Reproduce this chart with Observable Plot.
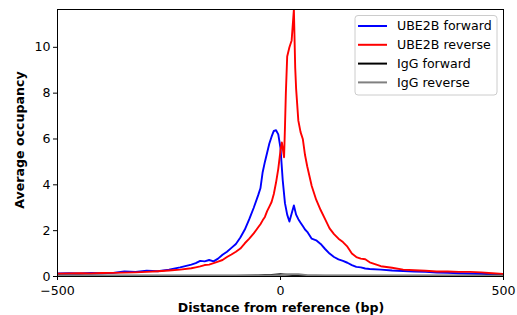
<!DOCTYPE html>
<html><head><meta charset="utf-8">
<script src="https://cdn.jsdelivr.net/npm/d3@7"></script>
<script src="https://cdn.jsdelivr.net/npm/@observablehq/plot@0.6"></script>
<style>body{margin:0;background:#fff}</style>
</head><body><div id="chart"></div><script>
// UBE2B forward
const fwdX = [-500,-475,-450,-425,-400,-375,-350,-325,-300,-275,-250,-225,-200,-190,-180,-170,-160,-150,-140,-130,-120,-110,-100,-90,-80,-70,-60,-50,-45,-40,-35,-30,-25,-20,-15,-10,-5,0,5,10,15,20,25,30,35,40,45,50,55,60,70,80,90,100,110,120,130,140,150,160,170,180,190,200,225,250,275,300,325,350,375,400,425,450,475,500];
const fwdY = [0.13,0.14,0.13,0.15,0.14,0.16,0.22,0.20,0.25,0.23,0.30,0.40,0.52,0.58,0.68,0.66,0.72,0.66,0.78,0.95,1.08,1.25,1.42,1.70,2.05,2.50,3.00,3.55,3.85,4.55,5.00,5.40,5.80,6.10,6.35,6.38,6.20,5.60,4.20,3.20,2.70,2.40,2.75,3.10,2.70,2.50,2.35,2.20,2.05,1.95,1.65,1.58,1.42,1.20,1.00,0.85,0.75,0.68,0.60,0.50,0.42,0.40,0.35,0.33,0.30,0.26,0.24,0.22,0.20,0.17,0.16,0.14,0.13,0.12,0.10,0.08];
// UBE2B reverse
const revX = [-500,-475,-450,-425,-400,-375,-350,-325,-300,-275,-250,-225,-200,-190,-180,-170,-160,-150,-140,-130,-120,-110,-100,-90,-80,-70,-60,-50,-45,-40,-35,-30,-25,-20,-15,-10,-5,0,3,8,10,12,15,20,25,30,33,35,40,45,50,55,60,70,80,90,100,110,120,130,140,150,160,170,180,190,200,225,250,275,300,325,350,375,400,425,450,475,500];
const revY = [0.12,0.13,0.14,0.13,0.15,0.16,0.17,0.18,0.20,0.23,0.26,0.30,0.36,0.40,0.44,0.50,0.52,0.58,0.65,0.72,0.85,0.96,1.08,1.22,1.45,1.65,1.88,2.15,2.28,2.45,2.60,2.85,3.05,3.25,3.60,4.10,4.70,5.50,5.85,5.20,6.50,8.00,9.60,10.00,10.30,11.65,9.10,8.20,6.80,6.30,6.00,5.30,4.80,3.95,3.35,2.90,2.50,2.10,1.85,1.65,1.50,1.30,1.00,0.85,0.78,0.75,0.62,0.45,0.38,0.30,0.27,0.25,0.22,0.22,0.20,0.20,0.18,0.14,0.11];
// IgG forward / reverse
const iggX = [-500,-400,-300,-200,-100,-50,-20,0,20,40,60,100,200,300,400,500];
const iggFwdY = [0.03,0.03,0.03,0.03,0.04,0.05,0.07,0.10,0.07,0.05,0.04,0.03,0.03,0.03,0.03,0.03];
const iggRevY = [0.03,0.03,0.03,0.03,0.04,0.04,0.05,0.07,0.10,0.10,0.06,0.04,0.03,0.03,0.03,0.03];

const seriesNames = ["UBE2B forward","UBE2B reverse","IgG forward","IgG reverse"];
const seriesColors = ["#0000ff","#ff0000","#000000","#808080"];
const xTicks = [-500,0,500];
const yTicks = [0,2,4,6,8,10];

const seriesData = [
  fwdX.map((x,i)=>({x, y: fwdY[i]})),
  revX.map((x,i)=>({x, y: revY[i]})),
  iggX.map((x,i)=>({x, y: iggFwdY[i]})),
  iggX.map((x,i)=>({x, y: iggRevY[i]}))
];

const FONT = "DejaVu Sans";
const plot = Plot.plot({
  width: 517, height: 315,
  marginLeft: 57, marginRight: 14, marginTop: 9, marginBottom: 39,
  style: {fontFamily: FONT, fontSize: "12.6px", color: "#000", background: "#fff"},
  x: {domain: [-500, 500]},
  y: {domain: [0, 11.65]},
  marks: [
    ...seriesData.map((d, i) => Plot.line(d, {x: "x", y: "y", stroke: seriesColors[i], strokeWidth: 1.9, clip: true})),
    Plot.frame({stroke: "#000", strokeWidth: 1}),
    Plot.axisX({ticks: xTicks, tickSize: 4, tickPadding: 6, label: null, fontSize: 12.6}),
    Plot.axisY({ticks: yTicks, tickSize: 4, tickPadding: 3, label: null, fontSize: 12.6})
  ]
});
document.getElementById("chart").appendChild(plot);

const svg = d3.select(plot);
svg.append("text").attr("x", 281).attr("y", 312).attr("text-anchor", "middle")
  .attr("font-family", FONT).attr("font-weight", "bold").attr("font-size", 12.6).text("Distance from reference (bp)");
svg.append("text").attr("transform", "translate(24,140) rotate(-90)").attr("text-anchor", "middle")
  .attr("font-family", FONT).attr("font-weight", "bold").attr("font-size", 12.6).text("Average occupancy");

const lg = svg.append("g");
lg.append("rect").attr("x", 355).attr("y", 15.5).attr("width", 142).attr("height", 79.5).attr("rx", 3)
  .attr("fill", "#fff").attr("fill-opacity", 0.8).attr("stroke", "#cccccc").attr("stroke-width", 1);
seriesNames.forEach((name, i) => {
  const cy = 26 + i * 18.8;
  lg.append("line").attr("x1", 358).attr("x2", 387).attr("y1", cy).attr("y2", cy)
    .attr("stroke", seriesColors[i]).attr("stroke-width", 2);
  lg.append("text").attr("x", 397).attr("y", cy).attr("dy", "0.35em").attr("text-anchor", "start")
    .attr("font-family", FONT).attr("font-size", 12.6).attr("fill", "#000").text(name);
});
</script></body></html>
